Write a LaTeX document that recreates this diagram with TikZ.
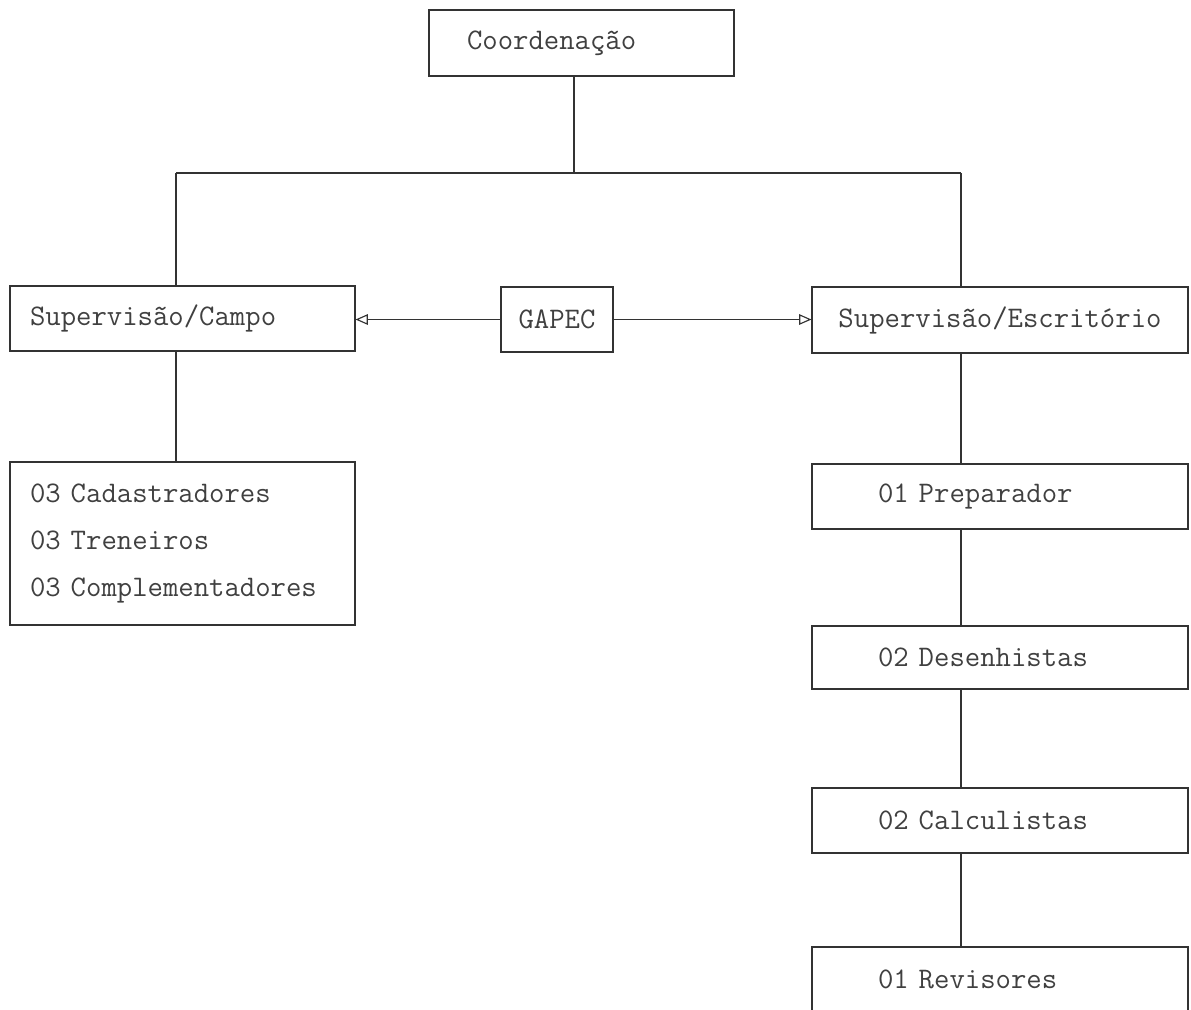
\documentclass[tikz,border=0pt]{standalone}
\usepackage{fontspec}
\usetikzlibrary{arrows.meta}

\tikzset{
  box/.style={draw=black!80, line width=0.65pt, text=black!75,
    font=\ttfamily\fontsize{17}{26.7}\selectfont,
    minimum height=1.3cm, inner ysep=0pt},
  leftbox/.style={box, align=left, inner xsep=0.4cm, text width=6.1cm},
  colbox/.style={box, align=left, inner xsep=1.32cm, text width=4.88cm},
  link/.style={draw=black!80, line width=0.65pt},
  arrowlink/.style={link, -{Triangle[open,length=7pt,width=6pt]}}
}

\begin{document}
\begin{tikzpicture}[x=0.02cm, y=-0.02cm]
    \useasboundingbox (0,0) rectangle (1191,1009);

    % draw top box
    \node[box, align=left, inner xsep=0.76cm, text width=4.58cm, minimum height=1.32cm]
      (coord) at (581.5,43) {Coordenação};

    % draw supervision boxes
    \node[leftbox] (campo) at (182.5,318.5) {Supervisão/Campo};
    \node[box, minimum width=2.24cm] (gapec) at (557,319.5) {GAPEC};
    \node[box, minimum width=7.52cm, minimum height=1.32cm] (esc) at (1000,320) {Supervisão/Escritório};

    % draw field team
    \node[leftbox, minimum height=3.26cm] (team) at (182.5,543.5)
      {03 Cadastradores\\03 Treneiros\\03 Complementadores};

    % draw office column
    \node[colbox] (prep) at (1000,496.5) {01 Preparador};
    \node[colbox, minimum height=1.26cm] (des) at (1000,657.5) {02 Desenhistas};
    \node[colbox] (calc) at (1000,820.5) {02 Calculistas};
    \node[colbox, minimum height=2.6cm, text depth=1.3cm] (rev) at (1000,1012) {01 Revisores};

    % draw branch points
    \coordinate (split) at (574,173);
    \coordinate (ldrop) at (176,173);
    \coordinate (rdrop) at (961,173);

    % draw connectors
    \draw[link] (coord.south -| split) -- (split);
    \draw[link] (ldrop) -- (rdrop);
    \draw[link] (ldrop) -- (ldrop |- campo.north);
    \draw[link] (rdrop) -- (rdrop |- esc.north);
    \draw[link] (campo.south -| ldrop) -- (ldrop |- team.north);
    \draw[link] (esc.south -| rdrop) -- (rdrop |- prep.north);
    \draw[link] (prep.south -| rdrop) -- (rdrop |- des.north);
    \draw[link] (des.south -| rdrop) -- (rdrop |- calc.north);
    \draw[link] (calc.south -| rdrop) -- (rdrop |- rev.north);

    % draw arrows from GAPEC
    \draw[arrowlink] (gapec.west) -- (campo.east |- gapec.west);
    \draw[arrowlink] (gapec.east) -- (esc.west |- gapec.east);

  \end{tikzpicture}
\end{document}
